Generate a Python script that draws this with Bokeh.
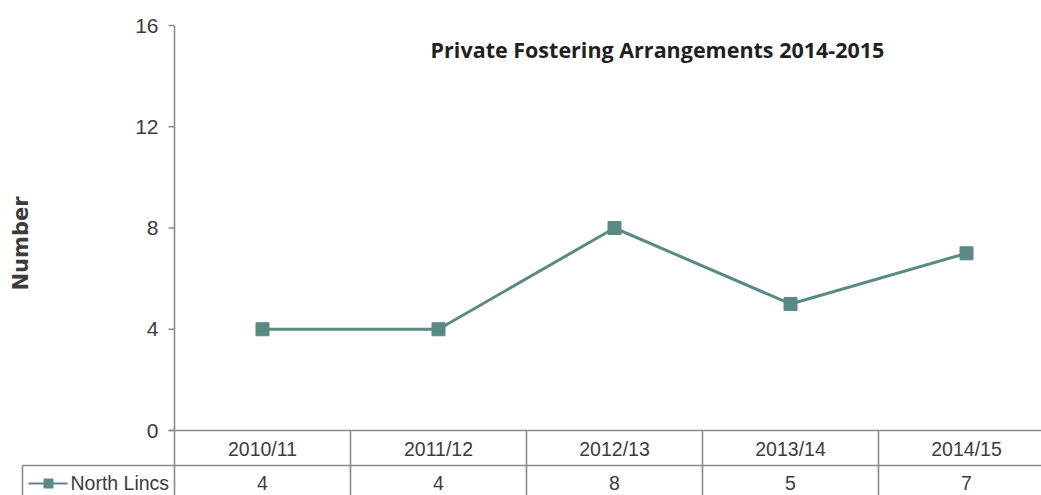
import math
from bokeh.plotting import figure
from bokeh.models import Range1d, ColumnDataSource
from bokeh.core.properties import value
from bokeh.embed import file_html
from bokeh.resources import INLINE

# ---- data ----
categories = ["2010/11", "2011/12", "2012/13", "2013/14", "2014/15"]
north_lincs = [4, 4, 8, 5, 7]
y_ticks = [0, 4, 8, 12, 16]
series_name = "North Lincs"
title_text = "Private Fostering Arrangements 2014-2015"
y_label = "Number"

# ---- layout helpers (pixel -> data, for decoration only) ----
W, H = 1041, 495
X0 = 262.0      # pixel centre of first category
DX = 176.0      # pixels per category
Y0 = 430.0      # pixel of value 0
DY = 405.0 / 16 # pixels per unit


def X(px):
    return (px - X0) / DX


def Y(py):
    return (Y0 - py) / DY


p = figure(width=W, height=H, output_backend="svg", toolbar_location=None,
           x_range=Range1d(X(0), X(W)), y_range=Range1d(Y(H), Y(0)),
           min_border=0, min_border_left=0, min_border_right=0,
           min_border_top=0, min_border_bottom=0)
p.xaxis.visible = False
p.yaxis.visible = False
p.grid.visible = False
p.outline_line_color = None
p.background_fill_color = "white"
p.border_fill_color = "white"

GRAY = "#8a8a8a"
TXT = "#3c3c3c"
LINE_C = "#5b8a85"
SANS = value("Liberation Sans")

n = len(categories)
bottom = Y(510)
right = X(1060)

# y axis line
p.segment(x0=[-0.5], y0=[max(y_ticks)], x1=[-0.5], y1=[bottom], line_color=GRAY, line_width=1.6)
# tick marks
p.segment(x0=[X(168)] * len(y_ticks), y0=y_ticks, x1=[-0.5] * len(y_ticks), y1=y_ticks,
          line_color=GRAY, line_width=1.6)
# tick labels
p.text(x=[X(158)] * len(y_ticks), y=y_ticks, text=[str(t) for t in y_ticks],
       text_align="right", text_baseline="middle", text_font=SANS,
       text_font_size="21px", text_color=TXT)

# table: top rule (x axis at 0), row separator, vertical cell borders
p.segment(x0=[X(168)], y0=[0], x1=[right], y1=[0], line_color=GRAY, line_width=1.6)
p.segment(x0=[X(22)], y0=[Y(465)], x1=[right], y1=[Y(465)], line_color=GRAY, line_width=1.6)
bounds = [i + 0.5 for i in range(n)]
p.segment(x0=bounds, y0=[0] * n, x1=bounds, y1=[bottom] * n, line_color=GRAY, line_width=1.6)
p.segment(x0=[X(22)], y0=[Y(465)], x1=[X(22)], y1=[bottom], line_color=GRAY, line_width=1.6)

# category labels and values in table
xs = list(range(n))
p.text(x=xs, y=[Y(448.5)] * n, text=categories, text_align="center", text_baseline="middle",
       text_font=SANS, text_font_size="19.5px", text_color=TXT)
p.text(x=xs, y=[Y(482)] * n, text=[str(v) for v in north_lincs], text_align="center",
       text_baseline="middle", text_font=SANS, text_font_size="19.5px", text_color=TXT)

# legend key in table
p.segment(x0=[X(28)], y0=[Y(483)], x1=[X(67)], y1=[Y(483)], line_color=LINE_C, line_width=2)
p.scatter(x=[X(48)], y=[Y(483)], marker="square", size=9, fill_color=LINE_C, line_color=LINE_C)
p.text(x=[X(70)], y=[Y(482)], text=[series_name], text_align="left", text_baseline="middle",
       text_font=SANS, text_font_size="19.5px", text_color=TXT)

# series
src = ColumnDataSource(dict(x=xs, y=north_lincs))
p.line("x", "y", source=src, line_color=LINE_C, line_width=3)
p.scatter("x", "y", source=src, marker="square", size=13, fill_color=LINE_C, line_color=LINE_C)

# y axis title
p.text(x=[X(20)], y=[Y(243)], text=[y_label], angle=math.pi / 2, text_align="center",
       text_baseline="middle", text_font=value("DejaVu Sans"), text_font_style="bold",
       text_font_size="21px", text_color=TXT)

# chart title
p.text(x=[X(657)], y=[Y(49)], text=[title_text], text_align="center",
       text_baseline="alphabetic", text_font=value("Open Sans"), text_font_style="bold",
       text_font_size="21.5px", text_color="#231f20")

open("out.html", "w").write(file_html(p, INLINE))
